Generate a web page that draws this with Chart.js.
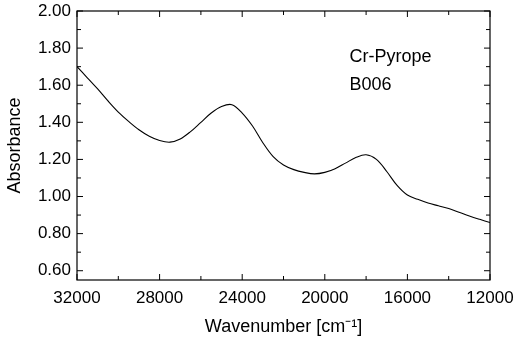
<!doctype html>
<html>
<head>
	<title>Cr-Pyrope B006</title>
	<script src="https://cdn.jsdelivr.net/npm/chart.js@4/dist/chart.umd.min.js"></script>
	<style>
	body { margin: 0; background: #fff; }
	</style>
</head>
<body>
	<canvas id="canvas" width="517" height="342"></canvas>
	<script>
		// spectrum, every 500 cm-1
		const wavenumber = [32000, 31500, 31000, 30500, 30000, 29500, 29000, 28500, 28000, 27500,
			27000, 26500, 26000, 25500, 25000, 24500, 24000, 23500, 23000, 22500,
			22000, 21500, 21000, 20500, 20000, 19500, 19000, 18500, 18000, 17500,
			17000, 16500, 16000, 15500, 15000, 14500, 14000, 13500, 13000, 12500, 12000];
		const absorbance = [1.70, 1.64, 1.58, 1.515, 1.455, 1.405, 1.36, 1.325, 1.302, 1.293,
			1.31, 1.35, 1.40, 1.45, 1.485, 1.495, 1.45, 1.38, 1.29, 1.215,
			1.17, 1.145, 1.13, 1.122, 1.13, 1.15, 1.18, 1.21, 1.225, 1.20,
			1.135, 1.06, 1.008, 0.985, 0.965, 0.95, 0.935, 0.915, 0.895, 0.877, 0.86];
		const xTicks = [32000, 28000, 24000, 20000, 16000, 12000];
		const yTicks = [0.6, 0.8, 1.0, 1.2, 1.4, 1.6, 1.8, 2.0];
		const sampleLines = ["Cr-Pyrope", "B006"];

		const font = "'Liberation Sans', Arial, sans-serif";

		// inward ticks, frame and sample label
		const framePlugin = {
			id: 'frame',
			afterDraw(chart) {
				const ctx = chart.ctx;
				const a = chart.chartArea;
				const xs = chart.scales.x, ys = chart.scales.y;
				ctx.save();
				ctx.strokeStyle = '#000';
				ctx.lineWidth = 1.2;
				ctx.strokeRect(a.left, a.top, a.right - a.left, a.bottom - a.top);
				ctx.lineWidth = 1;
				ctx.beginPath();
				for (let v = 12000; v <= 32000; v += 2000) {
					const px = xs.getPixelForValue(v);
					const len = v % 4000 === 0 ? 6 : 4;
					ctx.moveTo(px, a.bottom); ctx.lineTo(px, a.bottom - len);
					ctx.moveTo(px, a.top); ctx.lineTo(px, a.top + len);
				}
				for (let i = 6; i <= 20; i++) {
					const py = ys.getPixelForValue(i / 10);
					const len = i % 2 === 0 ? 6 : 4;
					ctx.moveTo(a.left, py); ctx.lineTo(a.left + len, py);
					ctx.moveTo(a.right, py); ctx.lineTo(a.right - len, py);
				}
				ctx.stroke();
				ctx.fillStyle = '#000';
				ctx.font = '18px ' + font;
				ctx.textBaseline = 'middle';
				ctx.fillText(sampleLines[0], xs.getPixelForValue(18800), ys.getPixelForValue(1.75));
				ctx.fillText(sampleLines[1], xs.getPixelForValue(18800), ys.getPixelForValue(1.60));
				ctx.restore();
			}
		};

		new Chart(document.getElementById('canvas'), {
			type: 'line',
			data: {
				datasets: [{
					data: wavenumber.map((w, i) => ({ x: w, y: absorbance[i] })),
					borderColor: '#000',
					borderWidth: 1.1,
					pointRadius: 0,
					tension: 0.35,
					fill: false
				}]
			},
			options: {
				responsive: false,
				animation: false,
				layout: { padding: { left: 0, right: 27, top: 11, bottom: 0 } },
				plugins: { legend: { display: false }, tooltip: { enabled: false } },
				scales: {
					x: {
						type: 'linear',
						reverse: true,
						min: 12000,
						max: 32000,
						afterBuildTicks: s => { s.ticks = xTicks.map(v => ({ value: v })); },
						afterFit: s => { s.height = 62; s.paddingLeft = 0; s.paddingRight = 0; },
						grid: { display: false, drawTicks: false },
						border: { display: false },
						ticks: {
							padding: 8,
							color: '#000',
							font: { family: font, size: 17 },
							maxRotation: 0,
							callback: v => String(v)
						},
						title: {
							display: true,
							text: 'Wavenumber [cm\u207B\u00B9]',
							color: '#000',
							font: { family: font, size: 18 },
							padding: { top: 6 }
						}
					},
					y: {
						min: 0.55,
						max: 2.0,
						afterBuildTicks: s => { s.ticks = yTicks.map(v => ({ value: v })); },
						afterFit: s => { s.width = 77; s.paddingTop = 0; s.paddingBottom = 0; },
						grid: { display: false, drawTicks: false },
						border: { display: false },
						ticks: {
							padding: 6,
							color: '#000',
							font: { family: font, size: 17 },
							callback: v => v.toFixed(2)
						},
						title: {
							display: true,
							text: 'Absorbance',
							color: '#000',
							font: { family: font, size: 18 },
							padding: { bottom: 0 }
						}
					}
				}
			},
			plugins: [framePlugin]
		});
	</script>
</body>
</html>
